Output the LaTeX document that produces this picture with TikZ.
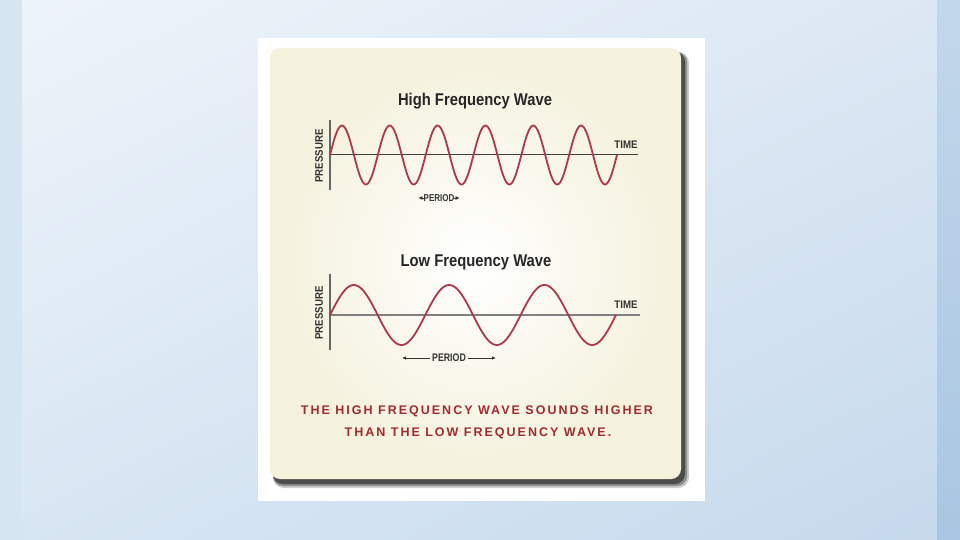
\documentclass[tikz,border=0pt]{standalone}
\usepackage{fontspec}
\setmainfont{Liberation Sans}
\newfontfamily\condf[FakeStretch=0.87]{Liberation Sans}
\newfontfamily\labf[FakeStretch=0.88]{Liberation Sans}
\newfontfamily\perf[FakeStretch=0.8]{Liberation Sans}
\newfontfamily\spacedf[LetterSpace=16]{Liberation Sans}
\usetikzlibrary{arrows.meta,shadings}
\definecolor{wavec}{HTML}{B3364A}
\definecolor{bgA}{HTML}{EEF4FA}
\definecolor{bgB}{HTML}{DCE7F3}
\definecolor{bgC}{HTML}{D8E6F3}
\definecolor{bgD}{HTML}{C5D9EC}
\definecolor{stripR}{HTML}{A9C6E2}
\definecolor{stripL}{HTML}{D6E5F2}
\definecolor{cream}{HTML}{F4F1DC}
\definecolor{redtxt}{HTML}{A32A30}
\tikzset{
  wave/.style={draw=wavec, line width=1.8pt},
  axisthin/.style={draw=black!75, line width=1pt},
  axisgray/.style={draw=black!50, line width=2.4pt},
  vaxis/.style={draw=black!60, line width=1.8pt},
  title/.style={font=\condf\bfseries\fontsize{17}{19}\selectfont, text=black!85, inner sep=0pt},
  small/.style={font=\labf\bfseries\fontsize{11}{12}\selectfont, text=black!80, inner sep=0pt},
  tiny/.style={font=\perf\bfseries\fontsize{10}{11}\selectfont, text=black!80, inner sep=0pt},
  redline/.style={font=\spacedf\bfseries\fontsize{12.5}{14}\selectfont, text=redtxt, inner sep=0pt},
  per/.style={draw=black!80, line width=0.8pt, -{Latex[length=4pt,width=3.5pt]}},
  pershort/.style={draw=black!80, line width=0.6pt, -{Latex[length=4pt,width=4pt]}}
}
\begin{document}
\begin{tikzpicture}[x=1pt,y=-1pt]
\useasboundingbox (0,0) rectangle (960,540);
% background
\shade[upper left=bgA, upper right=bgB, lower left=bgC, lower right=bgD] (0,0) rectangle (960,540);
\fill[stripL] (0,0) rectangle (22,540);
\shade[top color=stripR!70, bottom color=stripR] (937,0) rectangle (960,540);
% white frame
\fill[white] (258,38) rectangle (705,501);
% shadow
\fill[black!20, rounded corners=11pt] (273,52) rectangle (689,488);
\fill[black!45, rounded corners=10pt] (273,52) rectangle (687,486);
\fill[black!70, rounded corners=10pt] (273,52) rectangle (685,484);
% card
\shade[rounded corners=10pt, inner color=white, outer color=cream] (270,48) rectangle (681,479);

% ---------- high frequency
\node[title] (t1) at (475,101) {High Frequency Wave};
\draw[axisthin] (330,155) -- (638,155);
\draw[vaxis] (330,120) -- (330,190);
\draw[wave] plot[domain=0:287, samples=240, smooth] ({330+\x}, {155-29.5*sin(\x/47.83*360)});
\node[small] (time1) at (626,145) {TIME};
\node[small, rotate=90] (pr1) at (319,156) {PRESSURE};
\node[tiny] (per1) at (439,198) {PERIOD};
\draw[pershort] ([xshift=1pt]per1.west) -- ++(-6,0);
\draw[pershort] ([xshift=-1pt]per1.east) -- ++(6,0);

% ---------- low frequency
\node[title] (t2) at (476,262) {Low Frequency Wave};
\draw[axisgray] (330,315) -- (640,315);
\draw[vaxis] (330,274) -- (330,350);
\draw[wave] plot[domain=0:286, samples=240, smooth] ({330+\x}, {315-30*sin(\x/95.33*360)});
\node[small] (time2) at (626,305) {TIME};
\node[small, rotate=90] (pr2) at (319,313) {PRESSURE};
\node[tiny, font=\perf\bfseries\fontsize{11}{12}\selectfont] (per2) at (449,358) {PERIOD};
\coordinate (pl) at (402,358);
\coordinate (pr) at (496,358);
\draw[per] ([xshift=-2pt]per2.west) -- (pl);
\draw[per] ([xshift=2pt]per2.east) -- (pr);

% ---------- red caption
\node[redline] (c1) at (477,411) {THE HIGH FREQUENCY WAVE SOUNDS HIGHER};
\node[redline] (c2) at (478,433) {THAN THE LOW FREQUENCY WAVE.};
\end{tikzpicture}
\end{document}
